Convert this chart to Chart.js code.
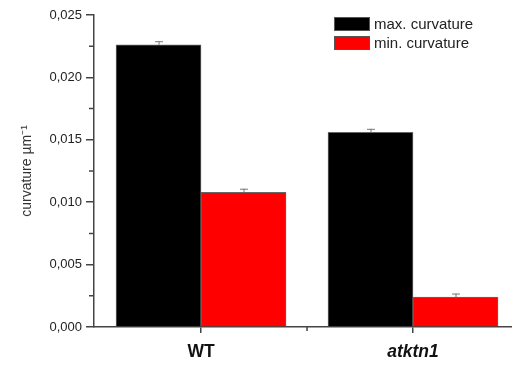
<!DOCTYPE html>
<html>
<head>
<meta charset="utf-8">
<script src="https://cdn.jsdelivr.net/npm/chart.js@4.4.1/dist/chart.umd.min.js"></script>
<style>
  html, body { margin: 0; padding: 0; background: #fff; }
  #wrap { position: relative; width: 512px; height: 365px; }
  #legend { position: absolute; left: 334px; top: 17px; font-family: "Liberation Sans", Arial, sans-serif; font-size: 15px; color: #222; }
  .row { display: flex; align-items: center; height: 13px; margin-bottom: 6px; }
  .box { width: 34px; height: 12px; border: 1px solid #555; margin-right: 4px; }
</style>
</head>
<body>
<div id="wrap">
  <canvas id="c" width="512" height="365"></canvas>
  <div id="legend"></div>
</div>
<script>
// ---- data ----
const GROUPS = ['WT', 'atktn1'];
const GROUP_POS = [1, 2];
const SERIES_NAMES = ['max. curvature', 'min. curvature'];
const SERIES_COLORS = ['#000000', '#ff0000'];
const MAX_CURV = [0.0226, 0.0156];
const MAX_ERR = [0.0003, 0.00028];
const MIN_CURV = [0.0108, 0.0024];
const MIN_ERR = [0.00028, 0.00028];
const Y_TICKS = ['0,000', '0,005', '0,010', '0,015', '0,020', '0,025'];

const ERRORS = [MAX_ERR, MIN_ERR];

// legend (html, real text)
const legendEl = document.getElementById('legend');
SERIES_NAMES.forEach((name, i) => {
  const row = document.createElement('div');
  row.className = 'row';
  row.innerHTML = '<span class="box" style="background:' + SERIES_COLORS[i] + '"></span><span>' + name + '</span>';
  legendEl.appendChild(row);
});

// error bars, upper half only with a small cap
const errorBars = {
  id: 'errorBars',
  afterDatasetsDraw(chart) {
    const ctx = chart.ctx;
    const yScale = chart.scales.y;
    ctx.save();
    ctx.strokeStyle = '#777';
    ctx.lineWidth = 1;
    chart.data.datasets.forEach((ds, di) => {
      const meta = chart.getDatasetMeta(di);
      meta.data.forEach((bar, i) => {
        const top = yScale.getPixelForValue(ds.data[i].y + ERRORS[di][i]);
        ctx.beginPath();
        ctx.moveTo(bar.x + 0.5, bar.y);
        ctx.lineTo(bar.x + 0.5, top);
        ctx.moveTo(bar.x - 3.5, top + 0.5);
        ctx.lineTo(bar.x + 4.5, top + 0.5);
        ctx.stroke();
      });
    });
    ctx.restore();
  }
};

// short minor tick marks between the major ones
const minorTicks = {
  id: 'minorTicks',
  afterDraw(chart) {
    const ctx = chart.ctx;
    const x = chart.scales.x, y = chart.scales.y;
    ctx.save();
    ctx.strokeStyle = '#444';
    ctx.lineWidth = 1.5;
    ctx.beginPath();
    for (let i = 0; i < Y_TICKS.length - 1; i++) {
      const py = y.getPixelForValue(0.0025 + i * 0.005);
      ctx.moveTo(y.right - 5, py);
      ctx.lineTo(y.right, py);
    }
    const px = x.getPixelForValue(1.5);
    ctx.moveTo(px, x.top);
    ctx.lineTo(px, x.top + 4);
    ctx.stroke();
    ctx.restore();
  }
};

const datasets = [MAX_CURV, MIN_CURV].map((vals, si) => ({
  label: SERIES_NAMES[si],
  data: vals.map((v, i) => ({ x: GROUP_POS[i], y: v })),
  backgroundColor: SERIES_COLORS[si],
  borderColor: '#666',
  borderWidth: 1,
  barThickness: 85
}));

new Chart(document.getElementById('c'), {
  type: 'bar',
  data: { datasets },
  options: {
    responsive: false,
    animation: false,
    layout: { padding: { top: 15, left: 19, right: 0, bottom: 0 } },
    plugins: { legend: { display: false }, tooltip: { enabled: false } },
    scales: {
      x: {
        type: 'linear',
        min: 0.495,
        max: 2.467,
        offset: false,
        afterBuildTicks: s => { s.ticks = GROUP_POS.map(v => ({ value: v })); },
        afterFit: s => { s.height = 38; },
        ticks: {
          color: '#111',
          padding: 9,
          font: c => ({ family: '"Liberation Sans", Arial, sans-serif', size: 17.5, weight: 'bold', style: c.tick && c.tick.value === 2 ? 'italic' : 'normal' }),
          callback: v => GROUPS[GROUP_POS.indexOf(v)] || ''
        },
        grid: { drawOnChartArea: false, drawTicks: true, tickLength: 6, color: '#444', lineWidth: 1.5, offset: false },
        border: { color: '#444', width: 1.5 }
      },
      y: {
        min: 0,
        max: 0.025,
        afterBuildTicks: s => { s.ticks = Y_TICKS.map((t, i) => ({ value: i * 0.005 })); },
        afterFit: s => { s.width = 75; },
        ticks: {
          color: '#222',
          padding: 4,
          font: { family: '"Liberation Sans", Arial, sans-serif', size: 13 },
          callback: (v, i) => Y_TICKS[i]
        },
        grid: { drawOnChartArea: false, drawTicks: true, tickLength: 8, color: '#444', lineWidth: 1.5 },
        border: { color: '#444', width: 1.5 },
        title: {
          display: true,
          text: 'curvature \u00b5m\u207b\u00b9',
          color: '#333',
          font: { family: '"Liberation Sans", Arial, sans-serif', size: 14 },
          padding: { top: 0, bottom: 4 }
        }
      }
    }
  },
  plugins: [errorBars, minorTicks]
});
</script>
</body>
</html>
